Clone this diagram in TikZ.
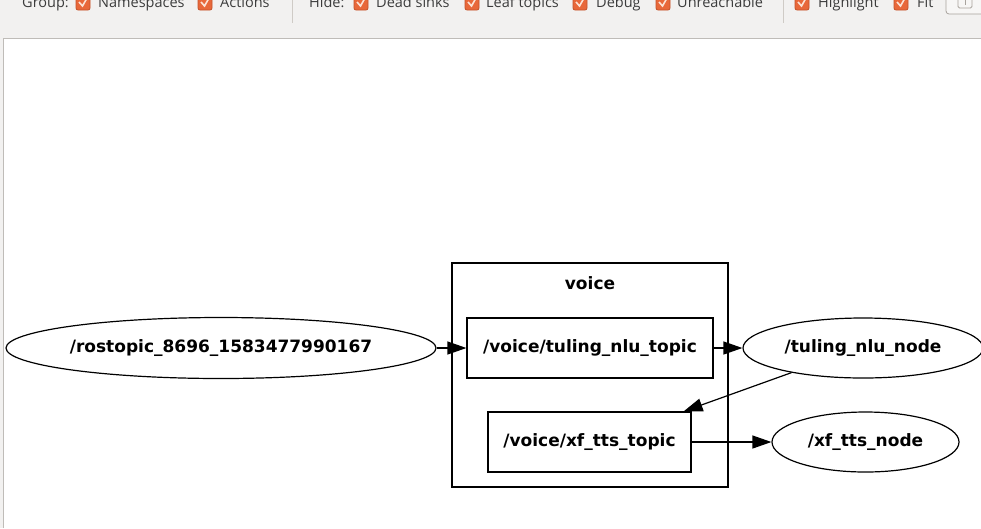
\documentclass[tikz,border=0pt]{standalone}
\usepackage{fontspec}
\setmainfont{DejaVu Sans}
\newfontfamily\uifont{Open Sans}
\usetikzlibrary{shapes.geometric,arrows.meta}
\definecolor{tbbg}{HTML}{F2F1F0}
\definecolor{tbtext}{HTML}{3C3C3C}
\definecolor{chkfill}{HTML}{E8683A}
\definecolor{chkedge}{HTML}{C4522A}
\definecolor{chkmark}{HTML}{FBE3D6}
\definecolor{framegray}{HTML}{BFBCB8}
\definecolor{sepgray}{HTML}{CFCBC6}
\definecolor{btnedge}{HTML}{A8A39D}
\definecolor{btnfill}{HTML}{F7F6F5}
\begin{document}
\begin{tikzpicture}[x=1pt,y=-1pt,
  font=\bfseries\fontsize{17}{20}\selectfont,
  topicbox/.style={draw, line width=1.2pt, inner sep=0pt},
  gnode/.style={draw, ellipse, line width=1.2pt, inner sep=0pt},
  flow/.style={line width=1.2pt, -{Triangle[length=19pt,width=13pt]}},
  uitext/.style={anchor=base west, inner sep=0pt, text=tbtext, font=\uifont\fontsize{14.5}{16}\selectfont},
  chk/.pic={
    \filldraw[fill=chkfill, draw=chkedge, line width=0.8pt, rounded corners=2pt] (0,-4) rectangle (14,10);
    \draw[chkmark, line width=1.6pt] (3,2) -- (6.5,6) -- (11,-2);
  }]
\useasboundingbox (0,0) rectangle (981,528);
\clip (0,0) rectangle (981,528);
% toolbar background
\fill[tbbg] (0,0) rectangle (981,528);
% canvas
\fill[white] (4,38) rectangle (981,528);
\draw[framegray, line width=1pt] (3.5,528) -- (3.5,38.5) -- (981,38.5);
% toolbar
\node[uitext] (tgroup) at (22,7.5) {Group:};
\pic at (76,0) {chk};
\node[uitext] (tns) at (98,7.5) {Namespaces};
\pic at (198,0) {chk};
\node[uitext] (tact) at (220,7.5) {Actions};
\draw[sepgray, line width=1pt] (292,0) -- (292,23);
\node[uitext] (thide) at (309,7.5) {Hide:};
\pic at (354,0) {chk};
\node[uitext] (tdead) at (376,7.5) {Dead sinks};
\pic at (465,0) {chk};
\node[uitext] (tleaf) at (486,7.5) {Leaf topics};
\pic at (573,0) {chk};
\node[uitext] (tdebug) at (596,7.5) {Debug};
\pic at (656,0) {chk};
\node[uitext] (tunr) at (677,7.5) {Unreachable};
\draw[sepgray, line width=1pt] (783,0) -- (783,23);
\pic at (795,0) {chk};
\node[uitext] (thl) at (818,7.5) {Highlight};
\pic at (894,0) {chk};
\node[uitext] (tfit) at (917,7.5) {Fit};
\filldraw[fill=btnfill, draw=btnedge, line width=0.8pt, rounded corners=3pt] (946,-10) rectangle (995,14);
\draw[btnedge, line width=0.9pt, rounded corners=1.5pt] (958,-4) rectangle (972,8);
\draw[btnedge, line width=0.9pt] (965,-4) -- (965,5);
% cluster
\node[draw, line width=1.2pt, minimum width=276pt, minimum height=224pt, inner sep=0pt] (voice) at (590,375) {};
\node[inner sep=0pt] (voicelabel) at (590,283) {voice};
% nodes
\node[gnode, minimum width=430pt, minimum height=61pt] (rostopic) at (221,348) {\makebox[0pt]{/rostopic\_8696\_1583477990167}};
\node[topicbox, minimum width=246pt, minimum height=60pt] (nlutopic) at (590,348) {/voice/tuling\_nlu\_topic};
\node[gnode, minimum width=240pt, minimum height=60pt] (nlunode) at (863,348) {\makebox[0pt]{/tuling\_nlu\_node}};
\node[topicbox, minimum width=203pt, minimum height=60pt] (xftopic) at (589.5,442) {/voice/xf\_tts\_topic};
\node[gnode, minimum width=187pt, minimum height=60pt] (xfnode) at (865.5,442) {\makebox[0pt]{/xf\_tts\_node}};
% edges
\draw[flow] (rostopic.east) -- (nlutopic.west);
\draw[flow] (nlutopic.east) -- (nlunode.west);
\draw[flow] (nlunode.199) -- ([xshift=-8pt]xftopic.north east);
\draw[flow] (xftopic.east) -- (xfnode.west);
\end{tikzpicture}
\end{document}
